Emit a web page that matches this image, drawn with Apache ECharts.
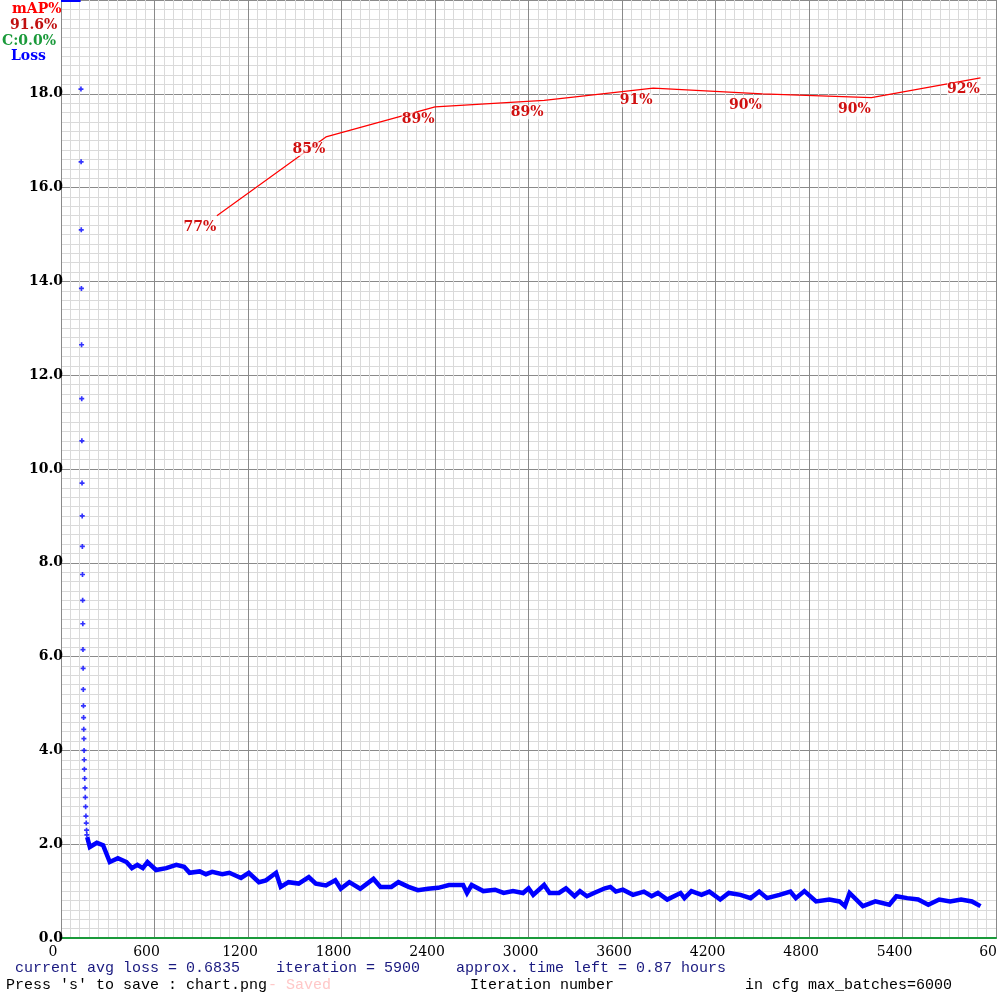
<!DOCTYPE html>
<html>
<head>
<meta charset="utf-8">
<script src="https://cdn.jsdelivr.net/npm/echarts@6/dist/echarts.min.js"></script>
<style>html,body{margin:0;padding:0;background:#fff}#main{width:1000px;height:1000px}</style>
</head>
<body>
<div id="main"></div>
<script>
// iteration / loss
var lossIter = [168,185,230,270,313,365,420,455,490,525,555,610,675,740,790,825,890,930,970,1035,1080,1155,1205,1270,1315,1380,1410,1460,1525,1590,1635,1700,1760,1795,1850,1920,2005,2050,2120,2165,2230,2290,2355,2420,2490,2580,2605,2635,2710,2785,2840,2900,2965,3000,3030,3100,3135,3195,3240,3295,3330,3375,3420,3490,3525,3560,3605,3670,3740,3790,3830,3890,3975,4000,4045,4110,4160,4230,4285,4360,4425,4480,4530,4610,4680,4715,4770,4845,4930,4995,5030,5060,5145,5225,5315,5360,5430,5500,5565,5635,5705,5775,5845,5900];
var lossVal = [2.15,1.94,2.03,1.98,1.62,1.7,1.62,1.49,1.56,1.49,1.62,1.45,1.49,1.56,1.52,1.39,1.42,1.36,1.41,1.36,1.39,1.28,1.39,1.19,1.23,1.39,1.09,1.19,1.16,1.3,1.16,1.12,1.23,1.05,1.19,1.05,1.26,1.09,1.09,1.19,1.09,1.02,1.05,1.07,1.13,1.13,0.96,1.13,1.0,1.03,0.96,1.0,0.96,1.06,0.92,1.13,0.96,0.96,1.06,0.89,1.0,0.89,0.96,1.06,1.09,0.99,1.03,0.92,0.99,0.89,0.96,0.82,0.96,0.85,1.0,0.92,0.99,0.82,0.96,0.92,0.85,0.99,0.85,0.92,0.99,0.85,1.0,0.78,0.82,0.78,0.68,0.96,0.68,0.78,0.71,0.89,0.85,0.82,0.71,0.82,0.78,0.82,0.78,0.68];
// the steep drop at the start (single points)
var spikeIter = [128,129,130,131,132,133,134,135,136,137,138,139,140,141,142,143,144,145,146,147,148,149,150,152,154,156,158,160,162,164,166];
var spikeVal = [18.1,16.55,15.1,13.85,12.65,11.5,10.6,9.7,9.0,8.35,7.75,7.2,6.7,6.15,5.75,5.3,4.95,4.7,4.45,4.25,4.0,3.8,3.6,3.4,3.2,3.0,2.8,2.6,2.45,2.3,2.2];
// loss above the top of the chart, drawn at the edge
var topIter = [0,20,40,60,80,100,120,126];
var topVal = [20,20,20,20,20,20,20,20];
var mapIter = [1000,1700,2400,3100,3800,4500,5200,5900];
var mapVal = [77.0,85.4,88.6,89.3,90.6,90.0,89.6,91.7];

var FONT = 'DejaVu Serif';
var MONO = '15px "Liberation Mono"';
var chart = echarts.init(document.getElementById('main'));
function pairs(a,b){ var r=[]; for(var i=0;i<a.length;i++) r.push([a[i],b[i]]); return r; }

chart.setOption({
  animation:false,
  backgroundColor:'#fff',
  grid:{left:61,top:0,right:-1,bottom:62,containLabel:false},
  xAxis:{type:'value',min:0,max:6000,interval:600,
    axisLine:{show:true,onZero:false,lineStyle:{color:'#1a9a3a',width:2}},
    axisTick:{show:false},
    axisLabel:{color:'#000',fontFamily:FONT,fontSize:14,margin:7,padding:[0,16,0,0],
      formatter:function(v){return v==6000?'60':String(v);}},
    splitLine:{show:true,lineStyle:{color:'#8a8a8a',width:1}},
    minorTick:{show:false,splitNumber:10},
    minorSplitLine:{show:true,lineStyle:{color:'#dadada',width:1}}
  },
  yAxis:[{type:'value',min:0,max:20,interval:2,
    axisLine:{show:true,lineStyle:{color:'#8a8a8a'}},
    axisTick:{show:false},
    axisLabel:{color:'#000',fontFamily:FONT,fontSize:14,fontWeight:'bold',margin:-2,
      formatter:function(v){return v==20?'':v.toFixed(1);}},
    splitLine:{show:true,lineStyle:{color:'#8a8a8a',width:1}},
    minorTick:{show:false,splitNumber:10},
    minorSplitLine:{show:true,lineStyle:{color:'#dadada',width:1}}
  },{type:'value',min:0,max:100,show:false}],
  series:[
    {type:'line',data:pairs(lossIter,lossVal),showSymbol:false,lineStyle:{color:'#0000ff',width:4.5,join:'miter'},z:3},
    {type:'scatter',data:pairs(spikeIter,spikeVal),symbol:'path://M2,0H4V2H6V4H4V6H2V4H0V2H2Z',symbolSize:5,itemStyle:{color:'#0000ff'},z:3},
    {type:'line',data:pairs(topIter,topVal),showSymbol:false,clip:false,lineStyle:{color:'#0000ff',width:4},z:3},
    {type:'line',yAxisIndex:1,data:pairs(mapIter,mapVal),showSymbol:true,symbolSize:0,
      lineStyle:{color:'#ff0000',width:1.2},itemStyle:{color:'#ff0000'},z:4,
      label:{show:true,position:'inside',offset:[-17,12],color:'#d01010',fontFamily:FONT,fontSize:14,fontWeight:'bold',
        backgroundColor:'rgba(255,255,255,0.7)',
        formatter:function(p){return Math.round(p.value[1])+'%';}}}
  ],
  graphic:[
    {type:'text',left:12,top:2,style:{text:'mAP%',fill:'#ff0000',font:'bold 14px '+FONT}},
    {type:'text',left:10,top:18,style:{text:'91.6%',fill:'#c01010',font:'bold 14px '+FONT}},
    {type:'text',left:2,top:34,style:{text:'C:0.0%',fill:'#1a9a3a',font:'bold 14px '+FONT}},
    {type:'text',left:11,top:49,style:{text:'Loss',fill:'#0000ff',font:'bold 14px '+FONT}},
    {type:'text',left:15,top:961,style:{text:'current avg loss = 0.6835    iteration = 5900    approx. time left = 0.87 hours',fill:'#1a1a80',font:MONO}},
    {type:'text',left:6,top:978,style:{text:"Press 's' to save : chart.png",fill:'#000',font:MONO}},
    {type:'text',left:268,top:978,style:{text:'- Saved',fill:'#ffc8c8',font:MONO}},
    {type:'text',left:470,top:978,style:{text:'Iteration number',fill:'#000',font:MONO}},
    {type:'text',left:745,top:978,style:{text:'in cfg max_batches=6000',fill:'#000',font:MONO}}
  ]
});
</script>
</body>
</html>
